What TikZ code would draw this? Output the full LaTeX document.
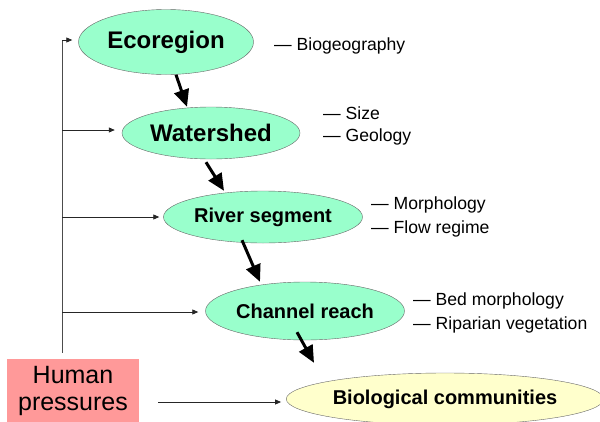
\documentclass[tikz,border=0pt]{standalone}
\usepackage{fontspec}
\setmainfont{Liberation Sans}
\usetikzlibrary{shapes.geometric,arrows.meta}

\definecolor{mint}{RGB}{153,255,204}
\definecolor{paleyellow}{RGB}{255,255,204}
\definecolor{pinkbox}{RGB}{255,153,153}

\tikzset{
  level/.style={ellipse, draw=black!60, fill=mint, inner sep=0pt},
  factor/.style={anchor=base west, inner sep=0pt, font=\fontsize{17.6}{20}\selectfont},
  flow/.style={line width=3pt, -{Triangle[length=17pt,width=15pt]}},
  feed/.style={line width=0.8pt, draw=black!85, -{Triangle[length=6pt,width=5pt]}},
  trunk/.style={line width=0.8pt, draw=black!70}
}

\begin{document}
\begin{tikzpicture}[x=1pt, y=-1pt]

  \useasboundingbox (0,0) rectangle (600,421);

  % ================================================================
  % Spatial levels (ellipses)
  % ================================================================

  \node[level, minimum width=175pt, minimum height=65pt,
        font=\bfseries\fontsize{24}{28}\selectfont]
    (eco) at (166,42) {Ecoregion};

  \node[level, minimum width=178pt, minimum height=52pt,
        font=\bfseries\fontsize{24}{28}\selectfont]
    (ws) at (211,133) {Watershed};

  \node[level, minimum width=199pt, minimum height=52pt,
        font=\bfseries\fontsize{20}{24}\selectfont]
    (rs) at (263,217) {River segment};

  \node[level, minimum width=199pt, minimum height=58pt,
        font=\bfseries\fontsize{20}{24}\selectfont]
    (ch) at (305,311) {Channel reach};

  \node[level, fill=paleyellow, minimum width=310pt, minimum height=52pt,
        font=\bfseries\fontsize{20}{24}\selectfont]
    (bio) at (445,399) {Biological communities};

  % ================================================================
  % Human pressures (pink box)
  % ================================================================

  \node[fill=pinkbox, minimum width=132pt, minimum height=64pt,
        inner sep=0pt, align=center, font=\fontsize{25}{27}\selectfont]
    (hp) at (73,391) {Human\\pressures};

  % ================================================================
  % Controlling factors (text on the right)
  % ================================================================

  \node[factor] (bgeo) at (274,50.5) {\textemdash{} Biogeography};
  \node[factor] (size) at (323,119)  {\textemdash{} Size};
  \node[factor] (geol) at (323,141)  {\textemdash{} Geology};
  \node[factor] (morph) at (371,209) {\textemdash{} Morphology};
  \node[factor] (flow) at (371,233)  {\textemdash{} Flow regime};
  \node[factor] (bed) at (413,305)   {\textemdash{} Bed morphology};
  \node[factor] (rip) at (413,329)   {\textemdash{} Riparian vegetation};

  % ================================================================
  % Hierarchy arrows (thick)
  % ================================================================

  \draw[flow] ([xshift=10pt]eco.south) -- ([xshift=-24pt]ws.north);
  \draw[flow] ([xshift=-5pt,yshift=-3pt]ws.south) -- ([xshift=-39pt]rs.north);
  \draw[flow] ([xshift=-21pt,yshift=3pt]rs.south) -- ([xshift=-45pt]ch.north);
  \draw[flow] ([xshift=-8pt,yshift=8pt]ch.south)
    -- ([xshift=-131pt,yshift=10pt]bio.north);

  % ================================================================
  % Human pressures feeding every level (thin)
  % ================================================================

  \coordinate (top) at (62,40);
  \coordinate (t2) at (62,130);
  \coordinate (t3) at (62,217);
  \coordinate (t4) at (62,312);
  \coordinate (bot) at (62,353);
  \coordinate (hpout) at (158,402);

  \draw[trunk] (top) -- (bot);

  \draw[feed, shorten >=6pt] (top) -- (top -| eco.west);
  \draw[feed, shorten >=7pt] (t2) -- (t2 -| ws.west);
  \draw[feed, shorten >=4pt] (t3) -- (t3 -| rs.west);
  \draw[feed, shorten >=7pt] (t4) -- (t4 -| ch.west);
  \draw[feed, shorten >=5pt] (hpout) -- (hpout -| bio.west);

\end{tikzpicture}
\end{document}
